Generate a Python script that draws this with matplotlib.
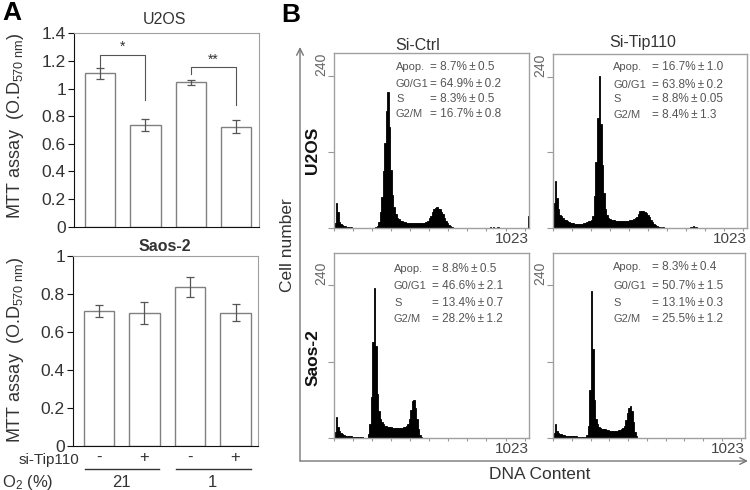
import numpy as np
import matplotlib
matplotlib.use('Agg')
import matplotlib.pyplot as plt
from matplotlib import transforms
from matplotlib.patches import FancyArrowPatch
from matplotlib.ticker import FuncFormatter

plt.rcParams['font.family'] = ['Liberation Sans', 'DejaVu Sans']
plt.rcParams['mathtext.fontset'] = 'custom'
plt.rcParams['mathtext.rm'] = 'Liberation Sans'
plt.rcParams['mathtext.it'] = 'Liberation Sans:italic'
plt.rcParams['mathtext.bf'] = 'Liberation Sans:bold'

# ---- panel A: MTT assay
si_tip = ['-', '+', '-', '+']
o2_groups = ['21', '1']
u2os_mean = [1.11, 0.735, 1.045, 0.725]
u2os_err = [0.04, 0.045, 0.02, 0.05]
saos_mean = [0.71, 0.70, 0.835, 0.70]
saos_err = [0.03, 0.057, 0.052, 0.045]

# significance brackets (U2OS)
sig_pairs = [(0, 1), (2, 3)]
sig_left_y = [1.155, 1.108]
sig_top_y = [1.245, 1.155]
sig_right_y = [0.915, 0.879]
sig_labels = ['*', '**']

# ---- panel B: DNA content histograms (bins of 8 channels, 0..1023)
u2os_ctrl = [
    8, 40, 26, 10, 7, 5, 4, 3, 2, 2, 2, 2, 1, 1, 1, 1,
    1, 0, 1, 0, 0, 1, 0, 1, 1, 1, 1, 2, 4, 10, 25, 50,
    90, 135, 185, 215, 160, 92, 52, 33, 22, 17, 14, 12, 11, 10, 10, 9,
    9, 8, 8, 8, 8, 8, 8, 8, 8, 8, 9, 9, 10, 12, 16, 20,
    25, 30, 32, 33, 31, 30, 26, 22, 17, 12, 8, 5, 3, 2, 1, 1,
    0, 1, 0, 0, 1, 0, 0, 0, 1, 0, 0, 0, 0, 1, 0, 0,
    0, 0, 1, 0, 1, 1, 2, 1, 2, 1, 1, 2, 1, 0, 1, 0,
    0, 0, 0, 0, 0, 1, 0, 0, 0, 0, 0, 0, 0, 0, 0, 20,
]
u2os_tip = [
    40, 74, 48, 30, 21, 18, 15, 13, 12, 10, 9, 8, 7, 7, 6, 6,
    6, 6, 6, 6, 7, 8, 9, 10, 11, 12, 18, 50, 105, 175, 242, 165,
    100, 55, 30, 20, 16, 14, 13, 12, 12, 11, 11, 11, 11, 11, 11, 11,
    11, 11, 12, 12, 13, 14, 15, 17, 22, 26, 27, 26, 25, 23, 20, 17,
    13, 9, 6, 4, 2, 1, 1, 0, 1, 0, 0, 0, 0, 0, 0, 0,
    0, 0, 0, 0, 0, 0, 0, 0, 0, 0, 1, 1, 2, 1, 1, 0,
    0, 0, 0, 0, 0, 0, 0, 0, 0, 0, 0, 0, 0, 0, 0, 0,
    0, 0, 0, 0, 0, 0, 0, 0, 0, 0, 0, 0, 0, 0, 0, 0,
]
saos_ctrl = [
    10, 34, 18, 11, 8, 7, 5, 4, 4, 3, 3, 3, 2, 2, 2, 2,
    2, 2, 2, 1, 1, 1, 6, 22, 65, 150, 235, 145, 70, 42, 30, 25,
    22, 20, 19, 18, 17, 17, 16, 16, 16, 16, 16, 16, 16, 17, 18, 19,
    22, 30, 45, 58, 60, 48, 30, 14, 5, 2, 1, 0, 0, 0, 0, 0,
    0, 0, 0, 0, 0, 0, 0, 0, 0, 0, 0, 0, 0, 0, 0, 0,
    0, 0, 0, 0, 0, 0, 0, 0, 0, 0, 0, 0, 0, 0, 0, 0,
    0, 0, 0, 0, 0, 0, 0, 0, 0, 0, 0, 0, 0, 0, 0, 0,
    0, 0, 0, 0, 0, 0, 0, 0, 0, 0, 0, 0, 0, 0, 0, 0,
]
saos_tip = [
    8, 23, 12, 9, 7, 6, 5, 5, 4, 4, 4, 3, 3, 3, 3, 3,
    2, 2, 2, 2, 2, 2, 5, 20, 75, 230, 140, 60, 30, 22, 18, 16,
    15, 14, 14, 13, 13, 12, 12, 12, 12, 12, 12, 13, 13, 14, 16, 20,
    28, 40, 48, 50, 42, 26, 10, 3, 1, 0, 0, 0, 0, 0, 0, 0,
    0, 0, 0, 0, 0, 0, 0, 0, 0, 0, 0, 0, 0, 0, 0, 0,
    0, 0, 0, 0, 0, 0, 0, 0, 0, 0, 0, 0, 0, 0, 0, 0,
    0, 0, 0, 0, 0, 0, 0, 0, 0, 0, 0, 0, 0, 0, 0, 0,
    0, 0, 0, 0, 0, 0, 0, 0, 0, 0, 0, 0, 0, 0, 0, 0,
]
phase_names = ['Apop.', 'G0/G1', 'S', 'G2/M']
PM = '\u2009\u00b1\u2009'
u2os_ctrl_vals = ['8.7%' + PM + '0.5', '64.9%' + PM + '0.2', '8.3%' + PM + '0.5', '16.7%' + PM + '0.8']
u2os_tip_vals = ['16.7%' + PM + '1.0', '63.8%' + PM + '0.2', '8.8%' + PM + '0.05', '8.4%' + PM + '1.3']
saos_ctrl_vals = ['8.8%' + PM + '0.5', '46.6%' + PM + '2.1', '13.4%' + PM + '0.7', '28.2%' + PM + '1.2']
saos_tip_vals = ['8.3%' + PM + '0.4', '50.7%' + PM + '1.5', '13.1%' + PM + '0.3', '25.5%' + PM + '1.2']

W, H = 750, 490
fig = plt.figure(figsize=(W / 100, H / 100), dpi=100)
fig.patch.set_facecolor('white')


def px_axes(l, t, r, b):
    return fig.add_axes([l / W, 1 - b / H, (r - l) / W, (b - t) / H])


def ftext(x, y, s, **kw):
    kw.setdefault('ha', 'center')
    kw.setdefault('va', 'center')
    kw.setdefault('color', '#333333')
    fig.text(x / W, 1 - y / H, s, **kw)


def mtt_panel(ax, mean, err, ymax):
    x = np.arange(len(mean))
    ax.bar(x, mean, width=0.67, color='white', edgecolor='#808080', linewidth=1.0)
    ax.errorbar(x, mean, yerr=err, fmt='none', ecolor='#555555', elinewidth=0.9,
                capsize=3, capthick=0.9)
    ax.set_xlim(-0.56, 3.5)
    ax.set_ylim(0, ymax)
    ax.set_yticks(np.arange(0, ymax + 0.01, 0.2))
    ax.yaxis.set_major_formatter(FuncFormatter(lambda v, _: '%g' % round(v, 1)))
    ax.set_xticks([])
    for s in ['top', 'right']:
        ax.spines[s].set_color('#a0a0a0')
    for s in ['left', 'bottom']:
        ax.spines[s].set_color('#111111')
    ax.tick_params(axis='y', direction='out', length=4, labelsize=12.5,
                   labelcolor='#333333', color='#111111', pad=2)


# ---- A: U2OS
axA1 = px_axes(74.3, 33.3, 259, 226.7)
mtt_panel(axA1, u2os_mean, u2os_err, 1.4)
for (i, j), y0, yt, y1, lab in zip(sig_pairs, sig_left_y, sig_top_y, sig_right_y, sig_labels):
    axA1.plot([i, i, j, j], [y0, yt, yt, y1], color='#555555', lw=0.8)
    axA1.text((i + j) / 2, yt + 0.005, lab, ha='center', va='bottom', fontsize=10, color='#333333')

# ---- A: Saos-2
axA2 = px_axes(73.3, 256, 258.3, 445.5)
mtt_panel(axA2, saos_mean, saos_err, 1.0)

ftext(165, 20, 'U2OS', fontsize=11.5)
ftext(165, 246, 'Saos-2', fontsize=11.5, fontweight='bold')
ylab = r'MTT assay  (O.D$_{\mathrm{570\ nm}}$)'
ftext(16, 126, ylab, fontsize=13, rotation=90)
ftext(16, 350, ylab, fontsize=13, rotation=90)
ftext(12, 13, 'A', fontsize=19, fontweight='bold', color='black')

# treatment labels below Saos-2
blend = transforms.blended_transform_factory(axA2.transData, fig.transFigure)
for i, s in enumerate(si_tip):
    axA2.text(i, 1 - 457 / H, s, transform=blend, ha='center', va='center',
              fontsize=12, color='#333333')
for k, g in enumerate(o2_groups):
    i = 2 * k
    axA2.plot([i - 0.3, i + 1.33], [1 - 469 / H] * 2, transform=blend,
              color='#333333', lw=1, clip_on=False)
    axA2.text(i + 0.5, 1 - 482 / H, g, transform=blend, ha='center', va='center',
              fontsize=12, color='#333333')
ftext(79, 460, 'si-Tip110', fontsize=11, ha='right')
ftext(2, 482, r'O$_2$ (%)', fontsize=12, ha='left')

# ---- B: histograms
edges = np.arange(0, 1025, 8)
panels = [
    (u2os_ctrl, u2os_ctrl_vals, (334, 53, 529, 228.3), 277, 396, 430, [67, 84, 99, 114]),
    (u2os_tip, u2os_tip_vals, (553, 54, 747, 227.7), 277, 613, 652, [67, 85, 99, 115]),
    (saos_ctrl, saos_ctrl_vals, (334, 253, 529, 438.3), 290, 394, 432, [269, 286, 303, 319]),
    (saos_tip, saos_tip_vals, (553, 253, 745, 438.3), 290, 613, 652, [267, 286, 303, 319]),
]
for counts, vals, box, ytop, xl, xv, ys in panels:
    ax = px_axes(*box)
    ax.bar(edges[:-1], counts, width=8, align='edge', color='black',
           edgecolor='black', linewidth=0.6)
    ax.set_xlim(0, 1023)
    ax.set_ylim(0, ytop)
    ax.set_yticks([0, 120, 240])
    ax.set_yticklabels([])
    ax.set_xticks(np.arange(0, 1001, 100))
    ax.set_xticklabels([])
    ax.tick_params(axis='y', direction='out', length=4, color='#999999', width=0.8)
    ax.tick_params(axis='x', direction='out', length=2.5, color='#999999', width=0.8)
    for s in ax.spines.values():
        s.set_color('#a0a0a0')
        s.set_linewidth(1)
    l, t, r, b = box
    ytick_px = b - 240 / ytop * (b - t)
    ftext(l - 13, ytick_px, '240', fontsize=10, rotation=90, va='bottom', color='#666666')
    ftext(r, b + 11, '1023', fontsize=11, ha='right', color='#444444')
    for name, v, y in zip(phase_names, vals, ys):
        ftext(xl, y, name, fontsize=8, ha='left', color='#555555')
        ftext(xv, y, '= ' + v, fontsize=8.5, ha='left', color='#555555')

ftext(418, 45, 'Si-Ctrl', fontsize=11.5)
ftext(643, 43, 'Si-Tip110', fontsize=11.5)
ftext(313, 150, 'U2OS', fontsize=12.5, fontweight='bold', rotation=90, color='#111111')
ftext(313, 358, 'Saos-2', fontsize=12.5, fontweight='bold', rotation=90, color='#111111')
ftext(288, 245, 'Cell number', fontsize=12.5, rotation=90)
ftext(540, 474, 'DNA Content', fontsize=12.5)
ftext(291, 15, 'B', fontsize=19, fontweight='bold', color='black')

# outer L-shaped axes with open arrow heads
corner = (300 / W, 1 - 461 / H)
for tip in [(300 / W, 1 - 47 / H), (748 / W, 1 - 461 / H)]:
    fig.add_artist(FancyArrowPatch(corner, tip, arrowstyle='->', mutation_scale=12,
                                   color='#777777', lw=1, transform=fig.transFigure,
                                   shrinkA=0, shrinkB=0))

plt.savefig('out.png', dpi=100, facecolor='white')
plt.close()
